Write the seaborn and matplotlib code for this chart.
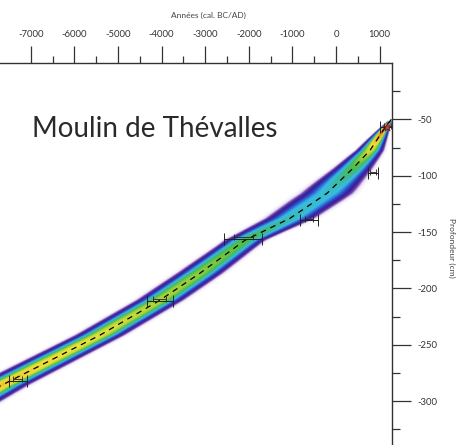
import numpy as np
import pandas as pd
import matplotlib
matplotlib.use("Agg")
import matplotlib.pyplot as plt
from matplotlib.colors import LinearSegmentedColormap
import seaborn as sns

# ---- data ----
# age-depth model (mean age, envelope half-width, density peak)
model_depth = [-50, -57, -77.5, -93.4, -115.6, -137.8, -157.3, -186.5, -210.5, -241.5, -286.7, -300, -340]
model_age = [1270, 1130, 780, 390, -206, -1055, -2087, -3119, -4037, -5413, -7706, -8300, -10000]
model_halfwidth = [20, 120, 350, 490, 700, 640, 500, 570, 580, 600, 650, 660, 660]
model_peak = [1.0, 0.97, 0.76, 0.6, 0.44, 0.48, 0.62, 0.68, 0.72, 0.78, 0.84, 0.84, 0.84]

# calibrated dates
date_depth = [-282, -211, -156, -139.5, -98, -57]
date_age = [-7300, -4040, -2130, -620, 850, 1170]
date_err2 = [210, 300, 430, 200, 110, 150]
date_err1 = [110, 150, 220, 100, 60, 80]

xticks_major = [-7000, -6000, -5000, -4000, -3000, -2000, -1000, 0, 1000]
yticks_major = [-50, -100, -150, -200, -250, -300]

title_text = "Moulin de Thévalles"
xlabel = "Années (cal. BC/AD)"
ylabel = "Profondeur (cm)"

sns.set_theme(style="white")
plt.rcParams['font.family'] = ['Lato', 'DejaVu Sans']
plt.rcParams['axes.unicode_minus'] = False

W, H = 460, 445
fig = plt.figure(figsize=(W / 100, H / 100), dpi=100)
ax = fig.add_axes([0, 0, 392 / W, 382 / H])
XMIN, XMAX = -7706, 1284
YMIN, YMAX = -339, 0
ax.set_xlim(XMIN, XMAX)
ax.set_ylim(YMIN, YMAX)

# ---- density envelope rendering ----
gx = np.linspace(XMIN, XMAX, 800)
gy = np.linspace(YMIN, YMAX, 600)
dsort = np.array(model_depth)[::-1]


def smooth(v, n=8):
    k = np.exp(-0.5 * (np.arange(-3 * n, 3 * n + 1) / n) ** 2)
    k /= k.sum()
    vp = np.pad(v, 3 * n, mode="edge")
    return np.convolve(vp, k, mode="valid")


m = np.interp(gy, dsort, np.array(model_age)[::-1])
w = smooth(np.interp(gy, dsort, np.array(model_halfwidth)[::-1]))
a = smooth(np.interp(gy, dsort, np.array(model_peak)[::-1]))
valid = (gy <= max(model_depth) - 1.5)
sig = np.maximum(w, 5) / 2.0
U = np.abs(gx[None, :] - m[:, None]) / sig[:, None]
F = a[:, None] * np.exp(-0.5 * U ** 2.8)
F[~valid, :] = 0

cmap = LinearSegmentedColormap.from_list("env", [
    (0.0, "#ffffff"),
    (0.025, "#e8e0f2"),
    (0.06, "#7040b0"),
    (0.13, "#3a1c90"),
    (0.23, "#2c3cb8"),
    (0.33, "#2f78da"),
    (0.42, "#38bde6"),
    (0.52, "#3cb8a0"),
    (0.61, "#4cbd4a"),
    (0.71, "#a8d23a"),
    (0.80, "#f0e43a"),
    (0.90, "#f08a22"),
    (1.0, "#d8281a"),
])
ax.imshow(F, extent=(XMIN, XMAX, YMIN, YMAX), origin="lower", aspect="auto",
          cmap=cmap, vmin=0, vmax=1, interpolation="bilinear", zorder=1)

# ---- mean model (dashed) ----
dfm = pd.DataFrame({"age": model_age, "depth": model_depth})
sns.lineplot(data=dfm, x="age", y="depth", sort=False, ax=ax, color="black",
             lw=0.9, linestyle=(0, (4.5, 4)), zorder=3)

# ---- calibrated dates ----
for d, x0, e2, e1 in zip(date_depth, date_age, date_err2, date_err1):
    ax.errorbar([x0], [d], xerr=[e2], fmt="none", ecolor="#222222", elinewidth=0.7,
                capsize=4, capthick=0.7, zorder=4)
    ax.errorbar([x0], [d + 1.2], xerr=[e1], fmt="none", ecolor="#222222", elinewidth=0.6,
                capsize=2.5, capthick=0.6, zorder=4)
sns.scatterplot(x=[date_age[-1]], y=[date_depth[-1]], marker="*", s=40, color="#e03020",
                edgecolor="#222222", linewidth=0.4, ax=ax, zorder=5)

# ---- axes ----
ax.xaxis.tick_top()
ax.yaxis.tick_right()
ax.set_xticks(xticks_major)
ax.set_xticks([-6500, -5500, -4500, -3500, -2500, -1500, -500, 500], minor=True)
ax.set_yticks(yticks_major)
ax.set_yticks([-25, -75, -125, -175, -225, -275, -325], minor=True)
ax.tick_params(axis="x", which="major", top=True, bottom=False, length=12, width=0.9,
               color="#333333", labelsize=6.8, labelcolor="#333333", pad=5, direction="out")
ax.tick_params(axis="x", which="minor", top=True, bottom=False, length=5, width=0.9,
               color="#333333", direction="out")
ax.tick_params(axis="y", which="major", right=True, left=False, length=14, width=0.9,
               color="#333333", labelsize=6.8, labelcolor="#333333", pad=4, direction="out")
ax.tick_params(axis="y", which="minor", right=True, left=False, length=6, width=0.9,
               color="#333333", direction="out")
for s in ["left", "bottom"]:
    ax.spines[s].set_visible(False)
for s in ["top", "right"]:
    ax.spines[s].set_visible(True)
    ax.spines[s].set_color("#333333")
    ax.spines[s].set_linewidth(1.0)
ax.set_xlabel("")
ax.set_ylabel("")
ax.grid(False)

fig.text(208 / W, 1 - 15 / H, xlabel, ha="center", va="center", fontsize=6.0, color="#444444")
fig.text(452 / W, 1 - 248 / H, ylabel, ha="center", va="center", fontsize=6.0, color="#444444",
         rotation=270)
fig.text(32 / W, 1 - 137 / H, title_text, ha="left", va="baseline", fontsize=20,
         color="#2a2a2a", zorder=10)

fig.savefig("out.png", dpi=100)
